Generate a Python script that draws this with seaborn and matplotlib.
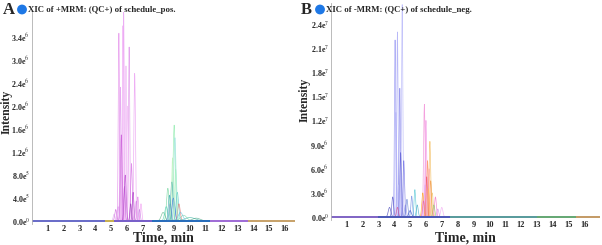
import numpy as np
import pandas as pd
import matplotlib
matplotlib.use("Agg")
import matplotlib.pyplot as plt
import seaborn as sns
from matplotlib.patches import Circle

sns.set_theme(style="white")
plt.rcParams['font.family'] = ['Liberation Serif', 'DejaVu Serif']
plt.rcParams['mathtext.fontset'] = 'stix'

# ---------------- data (peaks) ----------------
# Panel A (positive mode): retention time (min), apex height, sigma (min), colour
a_rt = [5.50, 5.80, 5.75, 6.15, 5.95, 6.50, 5.60, 6.05, 5.65, 6.30, 5.90, 6.70, 6.90, 5.30,
        6.40, 5.45, 6.60, 5.85, 5.20, 6.80, 6.25,
        9.00, 9.05, 8.85, 8.60, 9.20, 8.95, 9.30, 8.30, 9.60, 8.75, 10.00, 9.10, 8.50,
        8.90, 9.40, 10.40, 8.70]
a_h = [3.27e6, 3.70e6, 3.40e6, 3.03e6, 2.70e6, 2.57e6, 2.33e6, 2.00e6, 1.50e6, 1.00e6, 8.0e5,
       4.2e5, 3.0e5, 2.0e5, 5.0e5, 2.5e5, 3.5e5, 6.0e5, 1.2e5, 2.0e5, 3.0e5,
       1.67e6, 1.45e6, 6.8e5, 5.7e5, 5.0e5, 4.0e5, 3.0e5, 1.5e5, 1.0e5, 3.0e5, 6.0e4, 9.0e5,
       2.5e5, 1.1e6, 1.5e5, 5.0e4, 4.5e5]
a_w = [0.04, 0.04, 0.035, 0.04, 0.04, 0.05, 0.04, 0.05, 0.05, 0.05, 0.06, 0.05, 0.05, 0.06,
       0.05, 0.06, 0.05, 0.05, 0.06, 0.05, 0.05,
       0.07, 0.07, 0.08, 0.08, 0.08, 0.09, 0.08, 0.12, 0.20, 0.08, 0.35, 0.07, 0.10,
       0.06, 0.15, 0.25, 0.07]
a_c = ['#e07be8', '#e58cf0', '#f0a8f5', '#d97ee6', '#eaa0f2', '#e88ef0', '#dc88ec', '#f2b0f6',
       '#c040d0', '#d060e0', '#b030c8', '#e070e8', '#f090f0', '#c850d8', '#a020c0', '#e090f0',
       '#d070e0', '#b848d0', '#e0a0f0', '#c070e0', '#9030b0',
       '#7de8a0', '#90e0e0', '#3aa0b0', '#60d090', '#40c0c0', '#2050e0', '#e06060', '#50b080',
       '#70d0a0', '#9090e0', '#30b0a0', '#a0f0c0', '#40d0b0', '#b0f0b0', '#60c0e0', '#40a080',
       '#20a0a0']

# Panel B (negative mode)
b_rt = [4.05, 4.20, 4.50, 4.35, 4.10, 4.60, 3.90, 4.80, 4.40, 4.25, 3.70,
        5.30, 5.10, 5.45, 4.20, 5.00, 4.70,
        5.90, 6.00, 6.25, 6.10, 6.05, 5.95, 6.40, 6.60, 7.00, 5.80, 6.20, 6.50, 6.30, 5.85, 6.15,
        6.75]
b_h = [2.20e7, 2.30e7, 2.64e7, 1.60e7, 1.30e7, 7.0e6, 2.5e6, 2.2e6, 8.0e6, 4.0e6, 1.2e6,
       3.4e6, 2.6e6, 1.5e6, 1.2e6, 8.0e5, 1.5e6,
       1.40e7, 1.20e7, 9.4e6, 7.0e6, 5.0e6, 4.0e6, 3.0e6, 2.5e6, 1.2e6, 3.0e6, 6.0e6, 1.5e6,
       4.5e6, 2.0e6, 3.5e6, 1.0e6]
b_w = [0.04, 0.04, 0.04, 0.04, 0.05, 0.05, 0.06, 0.06, 0.05, 0.05, 0.08,
       0.05, 0.05, 0.06, 0.06, 0.08, 0.06,
       0.05, 0.05, 0.05, 0.05, 0.05, 0.06, 0.06, 0.06, 0.07, 0.06, 0.05, 0.06, 0.06, 0.06, 0.05,
       0.06]
b_c = ['#8080f0', '#9a9af5', '#a8a8f8', '#7070e8', '#b0b0f8', '#6060e0', '#4040c0', '#5070d0',
       '#5050d0', '#c0c0fa', '#3030b0',
       '#40c0d0', '#6080e0', '#30a0c0', '#e04080', '#2040c0', '#8080e0',
       '#f07ad0', '#f080e0', '#f0b040', '#ff8040', '#f04060', '#e0a0f0', '#f0c060', '#f060c0',
       '#f0a0f0', '#ff9900', '#ffa0a0', '#80c060', '#f09030', '#e050b0', '#ffb060', '#d080f0']

# Baseline segments (start, end, colour)
a_base = [(0.0, 4.6, '#7060d0'), (4.6, 5.2, '#e0b040'), (5.2, 7.6, '#8050d0'),
          (7.6, 11.3, '#2060c0'), (11.3, 13.7, '#b060e0'), (13.7, 16.65, '#e0a060')]
b_base = [(0.0, 3.0, '#7060d0'), (3.0, 7.5, '#3050c0'), (7.5, 13.0, '#40a0a0'),
          (13.0, 15.5, '#50b070'), (15.5, 17.0, '#c0a060')]

a_ticks = [0, 4e5, 8e5, 1.2e6, 1.6e6, 2.0e6, 2.4e6, 2.8e6, 3.2e6]
a_tick_labels = ["0.0e$^{0}$", "4.0e$^{5}$", "8.0e$^{5}$", "1.2e$^{6}$", "1.6e$^{6}$",
                 "2.0e$^{6}$", "2.4e$^{6}$", "3.0e$^{6}$", "3.4e$^{6}$"]
b_ticks = [0, 3e6, 6e6, 9e6, 1.2e7, 1.5e7, 1.8e7, 2.1e7, 2.4e7]
b_tick_labels = ["0.0e$^{0}$", "3.0e$^{6}$", "6.0e$^{6}$", "9.0e$^{6}$", "1.2e$^{7}$",
                 "1.5e$^{7}$", "1.8e$^{7}$", "2.1e$^{7}$", "2.4e$^{7}$"]
x_ticks = list(range(1, 17))


def build(rt, h, w, c, xmax):
    t = np.arange(0, xmax + 0.005, 0.01)
    rows = []
    pal = {}
    for i, (r, hh, ww, cc) in enumerate(zip(rt, h, w, c)):
        y = hh * np.exp(-0.5 * ((t - r) / ww) ** 2)
        name = f"p{i}"
        pal[name] = cc
        rows.append(pd.DataFrame({"time": t, "intensity": y, "trace": name}))
    return pd.concat(rows, ignore_index=True), pal


fig = plt.figure(figsize=(6.02, 2.45), dpi=100)
W, H = 602, 245


def px_axes(l, r, t, b):
    return fig.add_axes([l / W, 1 - b / H, (r - l) / W, (b - t) / H])


panels = [
    dict(rt=a_rt, h=a_h, w=a_w, c=a_c, base=a_base, xmax=16.65, l=32, r=295, t=12, b=224,
         ylim=(-5.2e4, 3.64e6), ticks=a_ticks, tl=a_tick_labels, letter="A", lx=3,
         title="XIC of +MRM: (QC+) of schedule_pos.", ylab_x=7, ylab_y=112, xl_x=163),
    dict(rt=b_rt, h=b_h, w=b_w, c=b_c, base=b_base, xmax=17.0, l=331, r=600, t=3, b=220,
         ylim=(-3.7e5, 2.66e7), ticks=b_ticks, tl=b_tick_labels, letter="B", lx=301,
         title="XIC of -MRM: (QC+) of schedule_neg.", ylab_x=305, ylab_y=100, xl_x=465),
]

for p in panels:
    ax = px_axes(p["l"], p["r"], p["t"], p["b"])
    df, pal = build(p["rt"], p["h"], p["w"], p["c"], p["xmax"])
    sns.lineplot(data=df, x="time", y="intensity", hue="trace", palette=pal, legend=False,
                 estimator=None, sort=False, linewidth=0.5, alpha=0.7, ax=ax)
    for s, e, cc in p["base"]:
        ax.plot([s, e], [0, 0], color=cc, linewidth=1.2, solid_capstyle='butt')
    ax.set_xlim(0, p["xmax"])
    ax.set_ylim(*p["ylim"])
    ax.set_xticks(x_ticks)
    ax.set_xticklabels([str(v) for v in x_ticks], fontsize=6, fontweight='bold')
    ax.set_yticks(p["ticks"])
    ax.set_yticklabels(p["tl"], fontsize=5.8, fontweight='bold')
    ax.tick_params(axis='y', length=0, pad=1.5)
    ax.tick_params(axis='x', length=0, pad=0.5)
    for sp in ["top", "right", "bottom"]:
        ax.spines[sp].set_visible(False)
    ax.spines["left"].set_color('#b0b0b0')
    ax.spines["left"].set_linewidth(0.6)
    ax.spines["left"].set_linestyle((0, (1, 1)))
    ax.set_xlabel("")
    ax.set_ylabel("")
    fig.text(p["xl_x"] / W, 1 - 238 / H, "Time, min", fontsize=10, fontweight='bold',
             ha='center', va='center')
    fig.text(p["ylab_x"] / W, 1 - p["ylab_y"] / H, "Intensity", rotation=90, fontsize=8.5,
             fontweight='bold', ha='center', va='center')
    fig.text(p["lx"] / W, 1 - 10 / H, p["letter"], fontsize=12, fontweight='bold',
             ha='left', va='center')
    fig.patches.append(Circle(((p["lx"] + 19), (H - 9.5)), 4.2,
                              transform=None, color='#1e78e6'))
    fig.text((p["lx"] + 25) / W, 1 - 9.5 / H, p["title"], fontsize=6.3, fontweight='bold',
             ha='left', va='center')

fig.savefig("out.png", dpi=100)
